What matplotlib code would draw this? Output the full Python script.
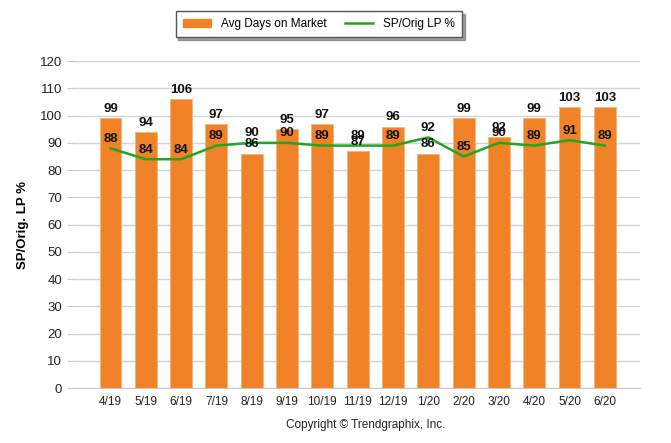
import matplotlib
matplotlib.use('Agg')
import matplotlib.pyplot as plt
import matplotlib.patches as mpatches
from matplotlib.lines import Line2D
import numpy as np

plt.rcParams['font.family'] = ['Liberation Sans', 'DejaVu Sans']

months = ['4/19', '5/19', '6/19', '7/19', '8/19', '9/19', '10/19', '11/19',
          '12/19', '1/20', '2/20', '3/20', '4/20', '5/20', '6/20']
avg_days = [99, 94, 106, 97, 86, 95, 97, 87, 96, 86, 99, 92, 99, 103, 103]
sp_orig = [88, 84, 84, 89, 90, 90, 89, 89, 89, 92, 85, 90, 89, 91, 89]

BAR = '#F08228'
LINE = '#22A622'

fig = plt.figure(figsize=(6.71, 4.43), dpi=100)
ax = fig.add_axes([0.112, 0.124, 0.842, 0.738])

x = np.arange(len(months))
ax.bar(x, avg_days, width=0.62, color=BAR, edgecolor='#F6B27A', linewidth=0.6, zorder=3)
ax.plot(x, sp_orig, color=LINE, linewidth=1.8, zorder=4)

for xi, v in zip(x, avg_days):
    ax.text(xi, v + 1.2, str(v), ha='center', va='bottom', fontsize=9.5,
            fontweight='bold', color='#111', zorder=5)
for xi, v in zip(x, sp_orig):
    ax.text(xi, v + 3.5, str(v), ha='center', va='center', fontsize=9.5,
            fontweight='bold', color='#111', zorder=5)

ax.set_xlim(-1, 15)
ax.set_ylim(0, 120)
ax.set_yticks(np.arange(0, 121, 10))
ax.set_xticks(x)
ax.set_xticklabels(months, fontsize=8.5, color='#222')
ax.tick_params(axis='y', labelsize=9.5, colors='#222', length=6, color='#c8c8c8')
ax.tick_params(axis='x', length=0, pad=6)
ax.yaxis.grid(True, color='#d4d4d4', linewidth=1, zorder=0)
ax.set_axisbelow(True)
for s in ['top', 'right', 'left']:
    ax.spines[s].set_visible(False)
ax.spines['bottom'].set_color('#c8c8c8')

ax.set_ylabel('SP/Orig. LP %', fontsize=9.5, fontweight='bold', labelpad=8)

handles = [mpatches.Patch(color=BAR, label='Avg Days on Market'),
           Line2D([0], [0], color=LINE, linewidth=1.8, label='SP/Orig LP %')]
leg = fig.legend(handles=handles, loc='center', bbox_to_anchor=(0.475, 0.945),
                 ncol=2, fontsize=8.5, frameon=True, fancybox=False, shadow=True,
                 edgecolor='#555', handlelength=2.4, columnspacing=1.6,
                 borderpad=0.6)
leg.get_frame().set_linewidth(1.0)

fig.text(0.545, 0.04, 'Copyright \u00a9 Trendgraphix, Inc.', ha='center',
         va='center', fontsize=8.5, color='#222')

plt.savefig('out.png', dpi=100)
plt.close()
